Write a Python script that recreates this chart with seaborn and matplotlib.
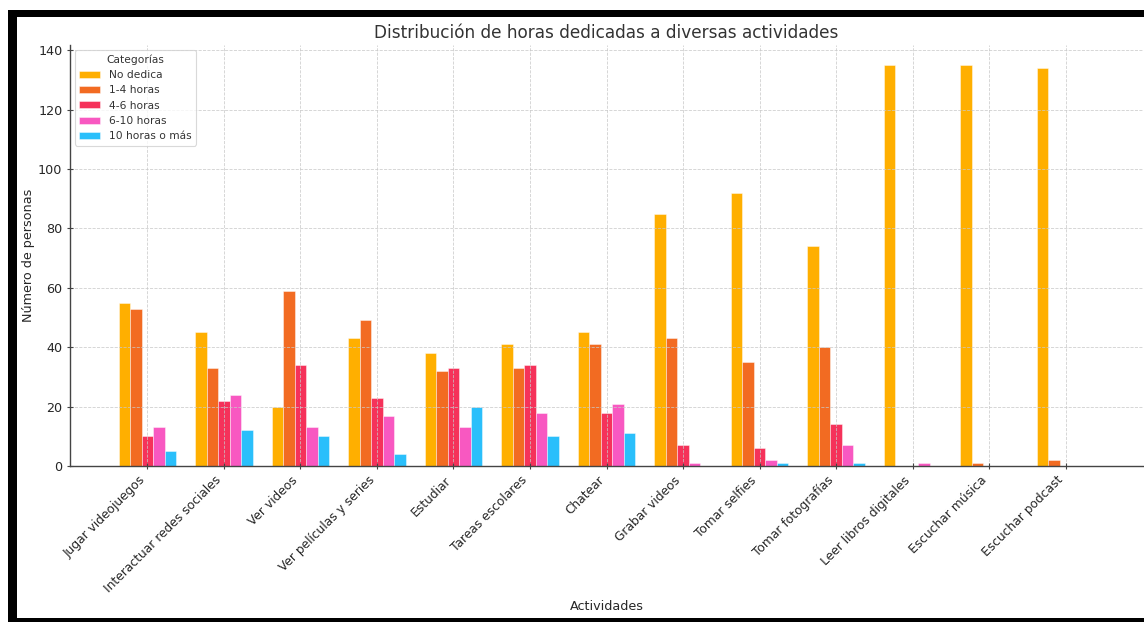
import numpy as np
import pandas as pd
import matplotlib
matplotlib.use("Agg")
import matplotlib.pyplot as plt
from matplotlib.patches import Rectangle
import seaborn as sns

activities = ["Jugar videojuegos", "Interactuar redes sociales", "Ver videos",
              "Ver películas y series", "Estudiar", "Tareas escolares", "Chatear",
              "Grabar videos", "Tomar selfies", "Tomar fotografías",
              "Leer libros digitales", "Escuchar música", "Escuchar podcast"]
categories = ["No dedica", "1-4 horas", "4-6 horas", "6-10 horas", "10 horas o más"]

no_dedica = [55, 45, 20, 43, 38, 41, 45, 85, 92, 74, 135, 135, 134]
h1_4 = [53, 33, 59, 49, 32, 33, 41, 43, 35, 40, 0, 1, 2]
h4_6 = [10, 22, 34, 23, 33, 34, 18, 7, 6, 14, 0, 0, 0]
h6_10 = [13, 24, 13, 17, 13, 18, 21, 1, 2, 7, 1, 0, 0]
h10_mas = [5, 12, 10, 4, 20, 10, 11, 0, 1, 1, 0, 0, 0]

colors = ["#FFAF00", "#F26B22", "#F5325A", "#F858C1", "#2ABFFB"]

series = [no_dedica, h1_4, h4_6, h6_10, h10_mas]
rows = []
for cat, vals in zip(categories, series):
    for act, v in zip(activities, vals):
        rows.append({"Actividades": act, "Categorías": cat, "Número de personas": v})
df = pd.DataFrame(rows)

plt.rcParams['font.family'] = ['DejaVu Sans']
plt.rcParams['axes.axisbelow'] = 'line'

W, H = 1144, 622
fig = plt.figure(figsize=(W / 100, H / 100), dpi=100)
ax = fig.add_axes([70 / W, 1 - 466 / H, (1143 - 70) / W, (466 - 45) / H])

sns.barplot(data=df, x="Actividades", y="Número de personas", hue="Categorías",
            hue_order=categories, palette=colors, saturation=1, width=0.75,
            edgecolor=(1, 1, 1, 0.5), linewidth=0.6, errorbar=None, ax=ax)

n = len(activities)
ax.set_xlim(-0.375 - 0.05 * (n - 0.25), n - 1 + 0.375 + 0.05 * (n - 0.25))
ax.set_ylim(0, 141.75)
ax.set_yticks([0, 20, 40, 60, 80, 100, 120, 140])

ax.grid(True, which='major', axis='both', linestyle='--', linewidth=0.6,
        color='#c8c8c8', alpha=0.85)
for side in ['top', 'right']:
    ax.spines[side].set_visible(False)
for side in ['left', 'bottom']:
    ax.spines[side].set_color('#444444')
    ax.spines[side].set_linewidth(1.0)

ax.tick_params(axis='both', direction='inout', length=4, width=0.8,
               color='#444444', labelcolor='#262626')
ax.tick_params(axis='y', labelsize=9.2)
ax.tick_params(axis='x', labelsize=8.8)
plt.setp(ax.get_xticklabels(), rotation=45, ha='right')

ax.set_title("Distribución de horas dedicadas a diversas actividades",
             fontsize=12.2, color='#333333', pad=5)
ax.set_xlabel("Actividades", fontsize=9.2, color='#262626', labelpad=3)
ax.set_ylabel("Número de personas", fontsize=9.2, color='#262626', labelpad=2)

leg = ax.legend(title="Categorías", loc='upper left', fontsize=7.7,
                title_fontsize=7.7, frameon=True, borderaxespad=0.45,
                handlelength=2.0, handleheight=0.65)
leg.get_frame().set_edgecolor('#d0d0d0')
leg.get_frame().set_linewidth(0.8)
for t in leg.get_texts():
    t.set_color('#333333')
leg.get_title().set_color('#333333')

# black screenshot frame
fig.add_artist(Rectangle((8 / W, 1 - 17 / H), 1 - 8 / W, 7 / H, transform=fig.transFigure,
                         facecolor='black', edgecolor='none', zorder=10))
fig.add_artist(Rectangle((8 / W, 0), 8.5 / W, 1 - 10 / H, transform=fig.transFigure,
                         facecolor='black', edgecolor='none', zorder=10))
fig.add_artist(Rectangle((8 / W, 0), 1 - 8 / W, 4 / H, transform=fig.transFigure,
                         facecolor='black', edgecolor='none', zorder=10))

fig.savefig("out.png", dpi=100)
